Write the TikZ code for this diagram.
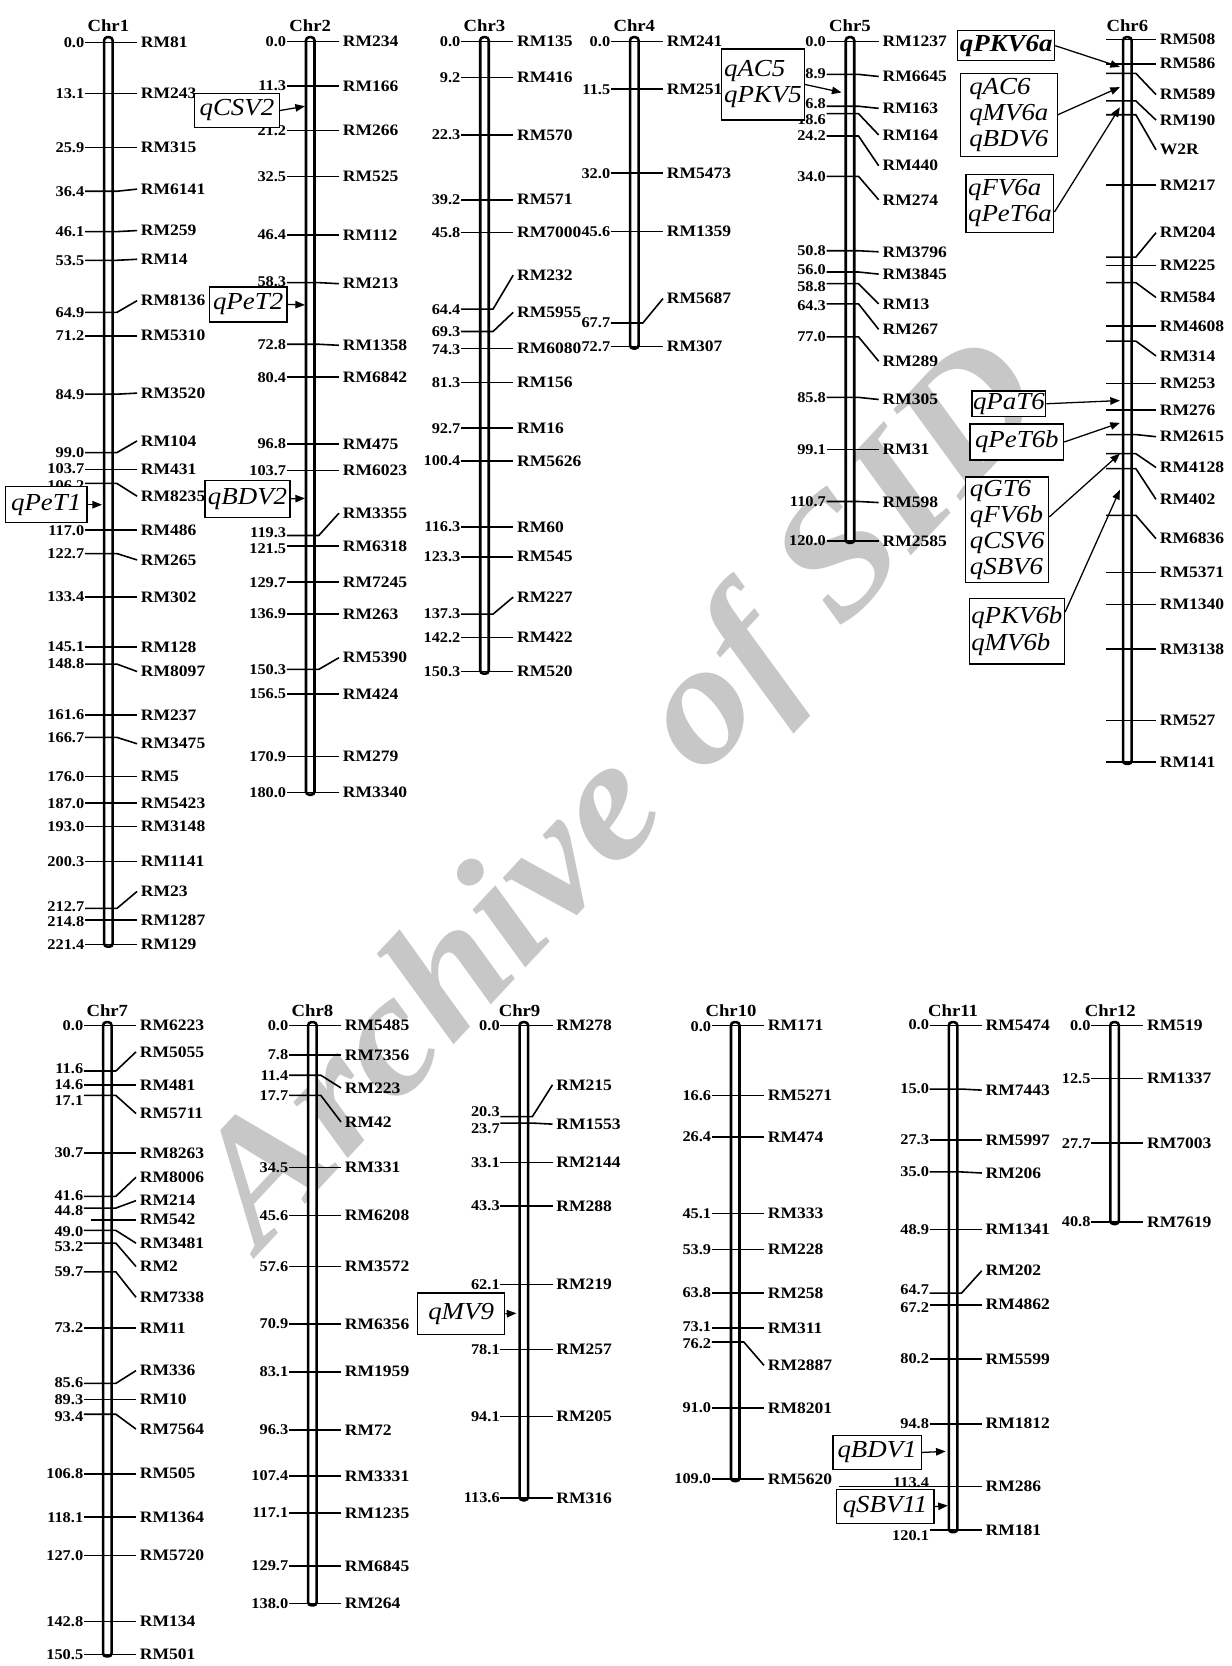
\documentclass[tikz,border=0pt]{standalone}
\usepackage{fontspec}
\setmainfont[FakeStretch=1.1]{Liberation Serif}
\usetikzlibrary{arrows.meta}

\begin{document}
\begin{tikzpicture}[x=1pt,y=-1pt,
    bar/.style={line width=2.4pt, fill=white, rounded corners=3pt},
    tick/.style={line width=1.5pt},
    num/.style={anchor=east, inner sep=0.5pt, font=\fontsize{14}{14}\selectfont\bfseries},
    mk/.style={anchor=west, inner sep=0.5pt, font=\fontsize{15}{15}\selectfont\bfseries},
    chr/.style={anchor=south, inner sep=1pt, font=\fontsize{16}{16}\selectfont\bfseries},
    qtl/.style={draw, line width=1.2pt, fill=white, align=left, inner sep=2pt, font=\fontsize{23}{24.5}\selectfont\itshape},
    qarr/.style={line width=1.2pt, -{Triangle[length=9pt,width=7pt]}}]
    \useasboundingbox (0,0) rectangle (1159,1568);

    \node[rotate=47, text=black!22, font=\fontsize{160}{160}\selectfont\bfseries\itshape] (wm) at (590,752) {Archive of SID};

    % Chr1
    \begin{scope}[shift={(102,0)}]
        \draw[bar] (-4,35) rectangle (4,891);
        \node[chr] (chr1) at (0,31) {Chr1};
        \foreach \y/\cm/\ny/\mk/\ly [count=\i] in {40/0.0/40/RM81/40, 88/13.1/88/RM243/88, 139/25.9/139/RM315/139,
            180/36.4/180/RM6141/178, 218/46.1/218/RM259/217, 245/53.5/245/RM14/244, 294/64.9/294/RM8136/283,
            316/71.2/316/RM5310/316, 371/84.9/371/RM3520/370, 426/99.0/426/RM104/415, 442/103.7/441/RM431/442,
            455/106.2/457/RM8235/467, 499/117.0/499/RM486/499, 521/122.7/521/RM265/527, 562/133.4/562/RM302/562,
            609/145.1/609/RM128/609, 625/148.8/625/RM8097/632, 673/161.6/673/RM237/673, 694/166.7/694/RM3475/700,
            731/176.0/731/RM5/731, 756/187.0/756/RM5423/756, 778/193.0/778/RM3148/778, 811/200.3/811/RM1141/811,
            855/212.7/853/RM23/839, 866/214.8/867/RM1287/866, 889/221.4/889/RM129/889}{
            \draw[tick] (-22,\y) -- (8,\y) -- (27,\ly);
            \node[num] (a\i) at (-22,\ny) {\cm};
            \node[mk] (b\i) at (30,\ly) {\mk};
        }
        \coordinate (t11) at (-6,475);
    \end{scope}

    % Chr2
    \begin{scope}[shift={(292,0)}]
        \draw[bar] (-4,35) rectangle (4,748);
        \node[chr] (chr2) at (0,31) {Chr2};
        \foreach \y/\cm/\ny/\mk/\ly [count=\i] in {39/0.0/39/RM234/39, 81/11.3/81/RM166/81, 123/21.2/123/RM266/123,
            166/32.5/166/RM525/166, 221/46.4/221/RM112/221, 266/58.3/265/RM213/267, 324/72.8/324/RM1358/325,
            355/80.4/355/RM6842/355, 418/96.8/418/RM475/418, 443/103.7/443/RM6023/443, 504/119.3/501/RM3355/483,
            514/121.5/516/RM6318/514, 548/129.7/548/RM7245/548, 578/136.9/578/RM263/578, 630/150.3/630/RM5390/619,
            653/156.5/653/RM424/653, 712/170.9/712/RM279/712, 746/180.0/746/RM3340/746}{
            \draw[tick] (-22,\y) -- (8,\y) -- (27,\ly);
            \node[num] (c\i) at (-22,\ny) {\cm};
            \node[mk] (d\i) at (30,\ly) {\mk};
        }
        \coordinate (t12) at (-5,100);
        \coordinate (t13) at (-5,287);
        \coordinate (t14) at (-5,469);
    \end{scope}

    % Chr3
    \begin{scope}[shift={(456,0)}]
        \draw[bar] (-4,35) rectangle (4,634);
        \node[chr] (chr3) at (0,31) {Chr3};
        \foreach \y/\cm/\ny/\mk/\ly [count=\i] in {39/0.0/39/RM135/39, 73/9.2/73/RM416/73, 127/22.3/127/RM570/127,
            188/39.2/188/RM571/188, 219/45.8/219/RM7000/219, 291/64.4/291/RM232/259, 312/69.3/312/RM5955/294,
            328/74.3/329/RM6080/328, 360/81.3/360/RM156/360, 403/92.7/403/RM16/403, 434/100.4/434/RM5626/434,
            496/116.3/496/RM60/496, 524/123.3/524/RM545/524, 578/137.3/578/RM227/562, 600/142.2/600/RM422/600,
            632/150.3/632/RM520/632}{
            \draw[tick] (-22,\y) -- (8,\y) -- (27,\ly);
            \node[num] (e\i) at (-22,\ny) {\cm};
            \node[mk] (f\i) at (30,\ly) {\mk};
        }
    \end{scope}

    % Chr4
    \begin{scope}[shift={(597,0)}]
        \draw[bar] (-4,35) rectangle (4,328);
        \node[chr] (chr4) at (0,31) {Chr4};
        \foreach \y/\cm/\ny/\mk/\ly [count=\i] in {39/0.0/39/RM241/39, 84/11.5/84/RM251/84, 163/32.0/163/RM5473/163,
            218/45.6/218/RM1359/218, 304/67.7/304/RM5687/281, 326/72.7/326/RM307/326}{
            \draw[tick] (-22,\y) -- (8,\y) -- (27,\ly);
            \node[num] (g\i) at (-22,\ny) {\cm};
            \node[mk] (h\i) at (30,\ly) {\mk};
        }
    \end{scope}

    % Chr5
    \begin{scope}[shift={(800,0)}]
        \draw[bar] (-4,35) rectangle (4,511);
        \node[chr] (chr5) at (0,31) {Chr5};
        \foreach \y/\cm/\ny/\mk/\ly [count=\i] in {39/0.0/39/RM1237/39, 70/8.9/69/RM6645/72, 100/16.8/98/RM163/102,
            107/18.6/113/RM164/127, 128/24.2/128/RM440/156, 166/34.0/166/RM274/188, 236/50.8/236/RM3796/237,
            256/56.0/254/RM3845/258, 267/58.8/270/RM13/286, 286/64.3/288/RM267/310, 317/77.0/317/RM289/340,
            374/85.8/374/RM305/376, 423/99.1/423/RM31/423, 472/110.7/472/RM598/473, 509/120.0/509/RM2585/509}{
            \draw[tick] (-22,\y) -- (8,\y) -- (27,\ly);
            \node[num] (i\i) at (-22,\ny) {\cm};
            \node[mk] (j\i) at (30,\ly) {\mk};
        }
        \coordinate (t15) at (-8,87);
    \end{scope}

    % Chr6
    \begin{scope}[shift={(1061,0)}]
        \draw[bar] (-4,35) rectangle (4,719);
        \node[chr] (chr6) at (0,31) {Chr6};
        \foreach \y/\mk/\ly [count=\i] in {37/RM508/37, 60/RM586/60, 69/RM589/89, 95/RM190/113,
            108/W2R/141, 174/RM217/174, 242/RM204/219, 250/RM225/250, 266/RM584/280,
            307/RM4608/307, 321/RM314/335, 361/RM253/361, 386/RM276/386, 409/RM2615/411,
            427/RM4128/440, 441/RM402/470, 485/RM6836/507, 539/RM5371/539, 569/RM1340/569,
            611/RM3138/611, 678/RM527/678, 717/RM141/717}{
            \draw[tick] (-20,\y) -- (8,\y) -- (27,\ly);
            \node[mk] (k\i) at (30,\ly) {\mk};
        }
        \coordinate (t1) at (-7,63);
        \coordinate (t2) at (-7,82);
        \coordinate (t3) at (-7,101);
        \coordinate (t4) at (-7,377);
        \coordinate (t5) at (-7,398);
        \coordinate (t6) at (-7,427);
        \coordinate (t7) at (-7,461);
    \end{scope}

    % Chr7
    \begin{scope}[shift={(101,0)}]
        \draw[bar] (-4,962) rectangle (4,1559);
        \node[chr] (chr7) at (0,958) {Chr7};
        \foreach \y/\cm/\ny/\mk/\ly [count=\i] in {965/0.0/965/RM6223/965, 1008/11.6/1006/RM5055/990,
            1021/14.6/1021/RM481/1021, 1031/17.1/1036/RM5711/1048, 1085/30.7/1085/RM8263/1085,
            1126/41.6/1125/RM8006/1108, 1137/44.8/1139/RM214/1130, 1158/49.0/1159/RM3481/1170,
            1170/53.2/1173/RM2/1192, 1197/59.7/1197/RM7338/1221, 1250/73.2/1250/RM11/1250,
            1302/85.6/1301/RM336/1290, 1317/89.3/1317/RM10/1317, 1331/93.4/1333/RM7564/1345,
            1387/106.8/1387/RM505/1387, 1428/118.1/1428/RM1364/1428, 1464/127.0/1464/RM5720/1464,
            1526/142.8/1526/RM134/1526, 1557/150.5/1557/RM501/1557}{
            \draw[tick] (-22,\y) -- (8,\y) -- (27,\ly);
            \node[num] (l\i) at (-22,\ny) {\cm};
            \node[mk] (m\i) at (30,\ly) {\mk};
        }
        \draw[tick] (-15,1148) -- (27,1148);
        \node[mk] (rm542) at (30,1148) {RM542};
    \end{scope}

    % Chr8
    \begin{scope}[shift={(294,0)}]
        \draw[bar] (-4,962) rectangle (4,1511);
        \node[chr] (chr8) at (0,958) {Chr8};
        \foreach \y/\cm/\ny/\mk/\ly [count=\i] in {965/0.0/965/RM5485/965, 993/7.8/993/RM7356/993,
            1012/11.4/1012/RM223/1024, 1031/17.7/1031/RM42/1056, 1099/34.5/1099/RM331/1099,
            1144/45.6/1144/RM6208/1144, 1192/57.6/1192/RM3572/1192, 1246/70.9/1246/RM6356/1246,
            1291/83.1/1291/RM1959/1291, 1346/96.3/1346/RM72/1346, 1389/107.4/1389/RM3331/1389,
            1424/117.1/1424/RM1235/1424, 1474/129.7/1474/RM6845/1474, 1509/138.0/1509/RM264/1509}{
            \draw[tick] (-22,\y) -- (8,\y) -- (27,\ly);
            \node[num] (n\i) at (-22,\ny) {\cm};
            \node[mk] (o\i) at (30,\ly) {\mk};
        }
    \end{scope}

    % Chr9
    \begin{scope}[shift={(493,0)}]
        \draw[bar] (-4,962) rectangle (4,1412);
        \node[chr] (chr9) at (-4,958) {Chr9};
        \foreach \y/\cm/\ny/\mk/\ly [count=\i] in {965/0.0/965/RM278/965, 1051/20.3/1046/RM215/1021,
            1057/23.7/1062/RM1553/1058, 1094/33.1/1094/RM2144/1094, 1135/43.3/1135/RM288/1135,
            1209/62.1/1209/RM219/1209, 1270/78.1/1270/RM257/1270, 1333/94.1/1333/RM205/1333,
            1410/113.6/1410/RM316/1410}{
            \draw[tick] (-22,\y) -- (8,\y) -- (27,\ly);
            \node[num] (p\i) at (-22,\ny) {\cm};
            \node[mk] (q\i) at (30,\ly) {\mk};
        }
        \coordinate (t8) at (-7,1236);
    \end{scope}

    % Chr10
    \begin{scope}[shift={(692,0)}]
        \draw[bar] (-4,962) rectangle (4,1394);
        \node[chr] (chr10) at (-4,958) {Chr10};
        \foreach \y/\cm/\ny/\mk/\ly [count=\i] in {965/0.0/966/RM171/965, 1031/16.6/1031/RM5271/1031,
            1070/26.4/1070/RM474/1070, 1142/45.1/1142/RM333/1142, 1176/53.9/1176/RM228/1176,
            1217/63.8/1217/RM258/1217, 1250/73.1/1249/RM311/1250, 1263/76.2/1265/RM2887/1285,
            1325/91.0/1325/RM8201/1325, 1392/109.0/1392/RM5620/1392}{
            \draw[tick] (-22,\y) -- (8,\y) -- (27,\ly);
            \node[num] (r\i) at (-22,\ny) {\cm};
            \node[mk] (s\i) at (30,\ly) {\mk};
        }
    \end{scope}

    % Chr11
    \begin{scope}[shift={(897,0)}]
        \draw[bar] (-4,962) rectangle (4,1442);
        \node[chr] (chr11) at (0,958) {Chr11};
        \draw[tick] (-107,1399) -- (-22,1399);
        \foreach \y/\cm/\ny/\mk/\ly [count=\i] in {965/0.0/964/RM5474/965, 1025/15.0/1025/RM7443/1026,
            1073/27.3/1073/RM5997/1073, 1103/35.0/1103/RM206/1104, 1157/48.9/1157/RM1341/1157,
            1217/64.7/1214/RM202/1196, 1228/67.2/1231/RM4862/1228, 1279/80.2/1279/RM5599/1279,
            1340/94.8/1340/RM1812/1340, 1399/113.4/1395/RM286/1399, 1440/120.1/1445/RM181/1440}{
            \draw[tick] (-22,\y) -- (8,\y) -- (27,\ly);
            \node[num] (u\i) at (-22,\ny) {\cm};
            \node[mk] (v\i) at (30,\ly) {\mk};
        }
        \coordinate (t9) at (-7,1366);
        \coordinate (t10) at (-5,1417);
    \end{scope}

    % Chr12
    \begin{scope}[shift={(1049,0)}]
        \draw[bar] (-4,962) rectangle (4,1152);
        \node[chr] (chr12) at (-4,958) {Chr12};
        \foreach \y/\cm/\ny/\mk/\ly [count=\i] in {965/0.0/965/RM519/965, 1015/12.5/1015/RM1337/1015,
            1076/27.7/1076/RM7003/1076, 1150/40.8/1150/RM7619/1150}{
            \draw[tick] (-22,\y) -- (8,\y) -- (27,\ly);
            \node[num] (w\i) at (-22,\ny) {\cm};
            \node[mk] (x\i) at (30,\ly) {\mk};
        }
    \end{scope}

    % QTL boxes
    \node[qtl, minimum width=77pt, minimum height=34pt] (qPeT1) at (43.5,475) {qPeT1};
    \node[qtl, minimum width=80pt, minimum height=32pt] (qCSV2) at (223,104) {qCSV2};
    \node[qtl, minimum width=73pt, minimum height=33pt] (qPeT2) at (233.5,286.5) {qPeT2};
    \node[qtl, minimum width=80pt, minimum height=35pt] (qBDV2) at (233,469.5) {qBDV2};
    \node[qtl, minimum width=78pt, minimum height=67pt] (qAC5) at (718,79.5) {qAC5\\qPKV5};
    \node[qtl, minimum width=80pt, minimum height=28pt, font=\fontsize{23}{24.5}\selectfont\bfseries\itshape] (qPKV6a) at (947,43) {qPKV6a};
    \node[qtl, minimum width=91pt, minimum height=78pt] (qAC6) at (949.5,108) {qAC6\\qMV6a\\qBDV6};
    \node[qtl, minimum width=77pt, minimum height=55pt] (qFV6a) at (950.5,191.5) {qFV6a\\qPeT6a};
    \node[qtl, minimum width=67pt, minimum height=24pt, inner sep=1pt] (qPaT6) at (949.5,380) {qPaT6};
    \node[qtl, minimum width=88pt, minimum height=34pt] (qPeT6b) at (957,416) {qPeT6b};
    \node[qtl, minimum width=78pt, minimum height=99pt] (qGT6) at (948,498.5) {qGT6\\qFV6b\\qCSV6\\qSBV6};
    \node[qtl, minimum width=88pt, minimum height=62pt] (qPKV6b) at (957,594) {qPKV6b\\qMV6b};
    \node[qtl, minimum width=82pt, minimum height=39pt] (qMV9) at (434,1236.5) {qMV9};
    \node[qtl, minimum width=83pt, minimum height=32pt] (qBDV1) at (825.5,1367) {qBDV1};
    \node[qtl, minimum width=92pt, minimum height=32pt] (qSBV11) at (833,1418) {qSBV11};

    \draw[qarr] (qPeT1.east) -- (t11);
    \draw[qarr] (qCSV2.east) -- (t12);
    \draw[qarr] (qPeT2.east) -- (t13);
    \draw[qarr] (qBDV2.east) -- (t14);
    \draw[qarr] (qAC5.east) -- (t15);
    \draw[qarr] (qPKV6a.east) -- (t1);
    \draw[qarr] (qAC6.east) -- (t2);
    \draw[qarr] ([yshift=-8pt]qFV6a.east) -- (t3);
    \draw[qarr] (qPaT6.east) -- (t4);
    \draw[qarr] (qPeT6b.east) -- (t5);
    \draw[qarr] ([yshift=12pt]qGT6.east) -- (t6);
    \draw[qarr] ([yshift=18pt]qPKV6b.east) -- (t7);
    \draw[qarr] (qMV9.east) -- (t8);
    \draw[qarr] (qBDV1.east) -- (t9);
    \draw[qarr] (qSBV11.east) -- (t10);
\end{tikzpicture}
\end{document}
